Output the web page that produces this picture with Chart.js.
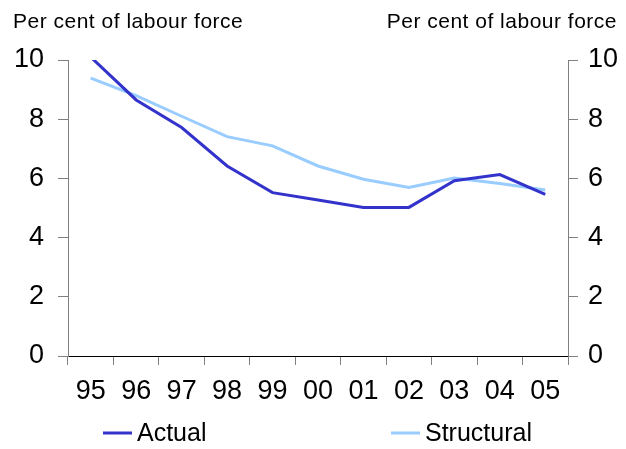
<!DOCTYPE html>
<html>
<head>
<meta charset="utf-8">
<script src="https://cdn.jsdelivr.net/npm/chart.js@4/dist/chart.umd.min.js"></script>
<style>
  html, body { margin: 0; padding: 0; background: #fff; }
  #wrap { width: 626px; height: 449px; position: relative; }
</style>
</head>
<body>
<div id="wrap"><canvas id="chart" width="626" height="449"></canvas></div>
<script>
// Données
const years = ['95', '96', '97', '98', '99', '00', '01', '02', '03', '04', '05'];
const actual = [10.1, 8.65, 7.72, 6.42, 5.52, 5.27, 5.02, 5.02, 5.92, 6.13, 5.46];
const structural = [9.39, 8.8, 8.1, 7.41, 7.1, 6.42, 5.97, 5.69, 6.01, 5.83, 5.61];
const yTicks = [0, 2, 4, 6, 8, 10];
const axisTitle = 'Per cent of labour force';

const FONT = 'Arial, "Liberation Sans", sans-serif';

// Titres des axes et légende
const decorations = {
  id: 'decorations',
  afterDraw(chart) {
    const ctx = chart.ctx;
    ctx.save();
    ctx.fillStyle = '#000';
    ctx.font = '21px ' + FONT;
    ctx.letterSpacing = '0.5px';
    ctx.textBaseline = 'alphabetic';
    ctx.textAlign = 'left';
    ctx.fillText(axisTitle, 13, 28);
    ctx.textAlign = 'right';
    ctx.fillText(axisTitle, 617, 28);
    ctx.letterSpacing = '0px';

    // légende
    const slots = [103, 391];
    ctx.font = '25px ' + FONT;
    ctx.textAlign = 'left';
    chart.data.datasets.forEach((ds, i) => {
      const x = slots[i];
      ctx.strokeStyle = ds.borderColor;
      ctx.lineWidth = 3;
      ctx.beginPath();
      ctx.moveTo(x, 433);
      ctx.lineTo(x + 29, 433);
      ctx.stroke();
      ctx.fillText(ds.label, x + 34, 441);
    });
    ctx.restore();
  }
};

const yAxis = (position, width, padding) => ({
  type: 'linear',
  position: position,
  min: 0,
  max: 10,
  afterBuildTicks: scale => { scale.ticks = yTicks.map(v => ({ value: v })); },
  afterFit: scale => { scale.width = width; },
  border: { display: true, color: '#808080', width: 1 },
  grid: { drawOnChartArea: false, drawTicks: true, tickLength: 10, color: '#808080' },
  ticks: { color: '#000', padding: padding, font: { size: 27, family: FONT } }
});

new Chart(document.getElementById('chart'), {
  type: 'line',
  data: {
    labels: years,
    datasets: [
      {
        label: 'Actual',
        data: actual,
        borderColor: '#3333CC',
        borderWidth: 3,
        pointRadius: 0,
        tension: 0,
        yAxisID: 'y'
      },
      {
        label: 'Structural',
        data: structural,
        borderColor: '#99CCFF',
        borderWidth: 3,
        pointRadius: 0,
        tension: 0,
        yAxisID: 'y'
      }
    ]
  },
  options: {
    responsive: false,
    animation: false,
    devicePixelRatio: 1,
    layout: { padding: { top: 60, left: 0, right: 0, bottom: 0 } },
    plugins: {
      legend: { display: false },
      tooltip: { enabled: false },
      title: { display: false }
    },
    scales: {
      x: {
        type: 'category',
        offset: true,
        afterFit: scale => { scale.height = 93; },
        border: { display: true, color: '#000', width: 1 },
        grid: { offset: true, drawOnChartArea: false, drawTicks: true, tickLength: 9, color: '#808080' },
        ticks: { color: '#000', padding: 10, maxRotation: 0, autoSkip: false, font: { size: 27, family: FONT } }
      },
      y: yAxis('left', 68, 14),
      y2: yAxis('right', 58, 10)
    }
  },
  plugins: [decorations]
});
</script>
</body>
</html>
